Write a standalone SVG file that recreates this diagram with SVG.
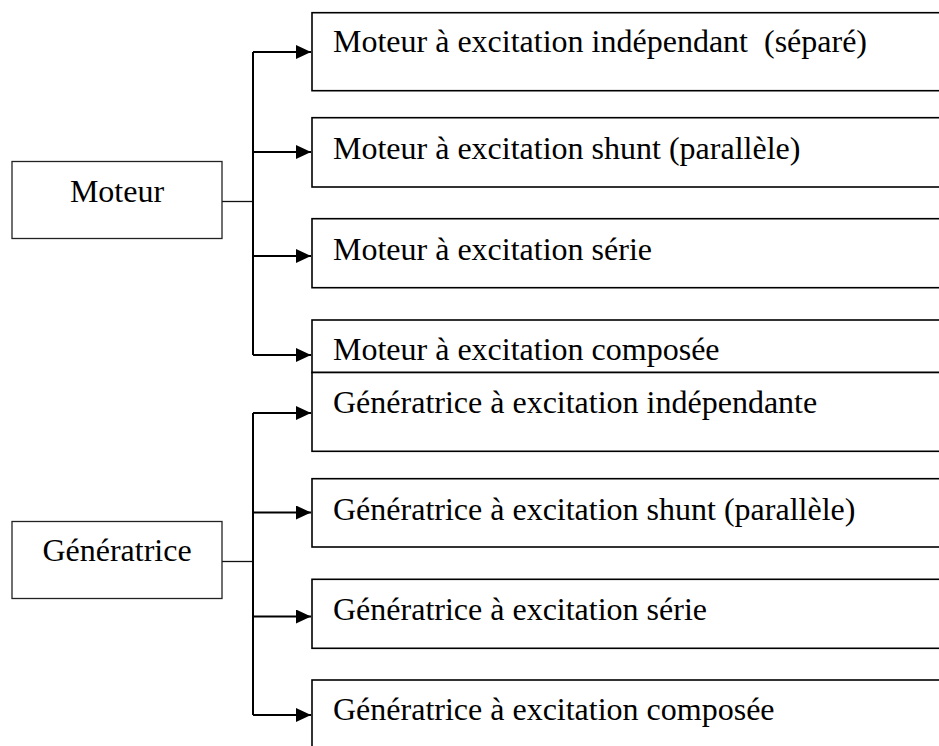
<svg xmlns="http://www.w3.org/2000/svg" width="939" height="746" viewBox="0 0 939 746">
<style>
  .txt { font-family: "Liberation Serif", "Times New Roman", serif; font-size: 32px; fill: #000; }
  .src { fill: #fff; stroke: #222; stroke-width: 1.3; }
  .dst { fill: #fff; stroke: #000; stroke-width: 1.6; }
  .trunk { fill: none; stroke: #000; stroke-width: 2; }
  .link { fill: none; stroke: #111; stroke-width: 1.3; }
</style>
<defs>
  <marker id="arr" markerUnits="userSpaceOnUse" markerWidth="16" markerHeight="14" refX="15" refY="7" orient="auto">
    <path d="M0,0 L15,7 L0,14 Z" fill="#000"/>
  </marker>
</defs>
<rect width="939" height="746" fill="#fff"/>

<g id="connectors">
  <path class="link" d="M222,201.5 H253"/>
  <path class="trunk" d="M253,52 V355"/>
  <path class="trunk" d="M253,52 H311" marker-end="url(#arr)"/>
  <path class="trunk" d="M253,152 H311" marker-end="url(#arr)"/>
  <path class="trunk" d="M253,256 H311" marker-end="url(#arr)"/>
  <path class="trunk" d="M253,355 H311" marker-end="url(#arr)"/>

  <path class="link" d="M222,561.5 H253"/>
  <path class="trunk" d="M253,413 V715"/>
  <path class="trunk" d="M253,413 H311" marker-end="url(#arr)"/>
  <path class="trunk" d="M253,512.5 H311" marker-end="url(#arr)"/>
  <path class="trunk" d="M253,616.5 H311" marker-end="url(#arr)"/>
  <path class="trunk" d="M253,715 H311" marker-end="url(#arr)"/>
</g>

<g id="moteur">
  <rect class="src" x="12" y="161.5" width="210" height="77"/>
  <text class="txt" x="117" y="201.5" text-anchor="middle">Moteur</text>
</g>
<g id="generatrice">
  <rect class="src" x="12" y="521.5" width="210" height="77"/>
  <text class="txt" x="117" y="560.5" text-anchor="middle">Génératrice</text>
</g>

<g id="m1">
  <rect class="dst" x="312" y="12.7" width="700" height="78"/>
  <text class="txt" x="333" y="52" xml:space="preserve">Moteur à excitation indépendant  (séparé)</text>
</g>
<g id="m2">
  <rect class="dst" x="312" y="117.7" width="700" height="69.3"/>
  <text class="txt" x="333" y="159">Moteur à excitation shunt (parallèle)</text>
</g>
<g id="m3">
  <rect class="dst" x="312" y="218.7" width="700" height="69"/>
  <text class="txt" x="333" y="260">Moteur à excitation série</text>
</g>
<g id="m4">
  <rect class="dst" x="312" y="320" width="700" height="52.5"/>
  <text class="txt" x="333" y="360">Moteur à excitation composée</text>
</g>
<g id="g1">
  <rect class="dst" x="312" y="372.5" width="700" height="78.8"/>
  <text class="txt" x="333" y="413">Génératrice à excitation indépendante</text>
</g>
<g id="g2">
  <rect class="dst" x="312" y="478.7" width="700" height="68.3"/>
  <text class="txt" x="333" y="519.7">Génératrice à excitation shunt (parallèle)</text>
</g>
<g id="g3">
  <rect class="dst" x="312" y="579.3" width="700" height="69"/>
  <text class="txt" x="333" y="619.7">Génératrice à excitation série</text>
</g>
<g id="g4">
  <rect class="dst" x="312" y="680" width="700" height="100"/>
  <text class="txt" x="333" y="719.7">Génératrice à excitation composée</text>
</g>
</svg>
